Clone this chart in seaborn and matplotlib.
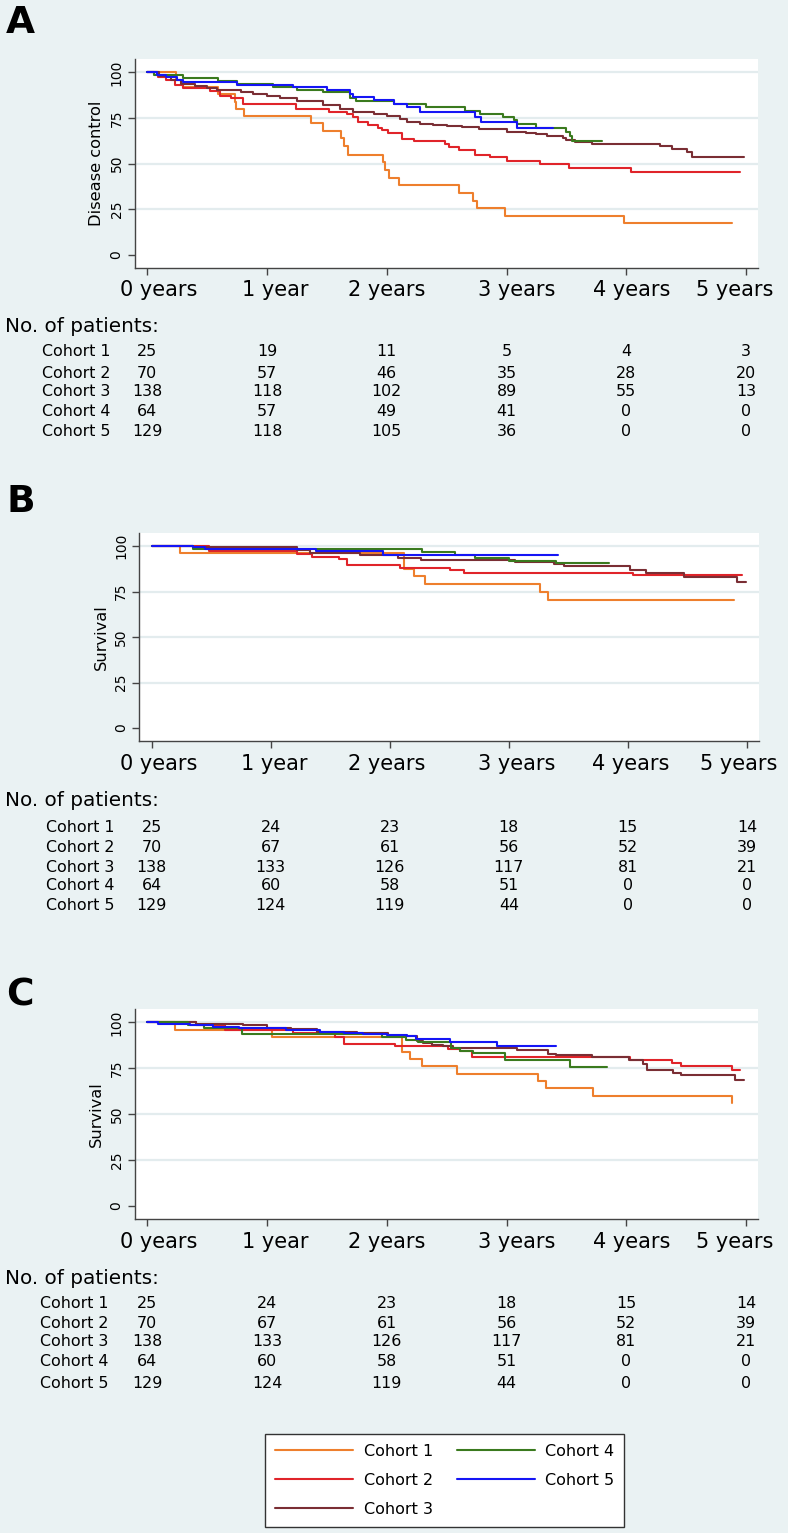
import matplotlib
matplotlib.use("Agg")
import matplotlib.pyplot as plt
import matplotlib.transforms as mtransforms
import pandas as pd
import seaborn as sns

cohorts = ["Cohort 1", "Cohort 2", "Cohort 3", "Cohort 4", "Cohort 5"]
colors = ["#EE7F2D", "#E0242A", "#7A2E34", "#3A7A1E", "#1515F5"]
year_ticks = [0, 1, 2, 3, 4, 5]
year_labels = ["0 years", "1 year", "2 years", "3 years", "4 years", "5 years"]
y_ticks = [0, 25, 50, 75, 100]

# ---- panel A: disease control (step times in years, value in %)
a_t1 = [0, 0.24, 0.30, 0.59, 0.73, 0.745, 0.81, 1.37, 1.465, 1.62, 1.64, 1.68,
        1.97, 1.985, 2.02, 2.105, 2.6, 2.72, 2.75, 2.99, 3.985]
a_s1 = [100, 96, 92, 88, 84, 80, 76, 72, 68, 64, 59.5, 55,
        51, 46.5, 42.2, 38.2, 33.7, 29.5, 25.5, 21.3, 17.3]
a_t2 = [0, 0.09, 0.16, 0.23, 0.30, 0.52, 0.61, 0.70, 0.80, 1.24, 1.52, 1.67, 1.72,
        1.76, 1.84, 1.93, 1.96, 2.01, 2.13, 2.23, 2.49, 2.52, 2.6, 2.74, 2.86, 3.0,
        3.28, 3.52, 4.04]
a_s2 = [100, 97.2, 95.7, 92.9, 91.4, 89.9, 87.1, 85.7, 82.9, 80.0, 78.5, 77.1, 75.6,
        72.7, 71.2, 69.7, 68.2, 66.7, 63.7, 62.2, 60.6, 59.1, 57.5, 55.0, 53.4, 51.7,
        50.1, 47.5, 45.3]
a_t3 = [0, 0.1, 0.2, 0.28, 0.4, 0.5, 0.58, 0.78, 0.88, 1.0, 1.11, 1.25, 1.47, 1.61,
        1.72, 1.89, 2.0, 2.11, 2.17, 2.28, 2.39, 2.5, 2.63, 2.77, 3.0, 3.16, 3.25,
        3.34, 3.47, 3.5, 3.57, 3.71, 4.28, 4.38, 4.51, 4.55]
a_s3 = [100, 98, 95.6, 93.8, 92.5, 91.4, 90.2, 89.2, 88.3, 87.0, 86.0, 84.1, 82.0,
        80.1, 78.3, 77.4, 76.1, 74.3, 73.0, 71.9, 71.4, 70.8, 69.9, 68.8, 67.5, 67.0,
        66.1, 65.2, 64.3, 63.0, 62.1, 61.0, 59.7, 58.1, 56.3, 53.5]
a_t4 = [0, 0.06, 0.3, 0.59, 0.75, 1.05, 1.25, 1.47, 1.69, 1.74, 2.06, 2.33, 2.65,
        2.78, 2.97, 3.06, 3.09, 3.25, 3.5, 3.53, 3.55]
a_s4 = [100, 98.4, 96.9, 95.3, 93.8, 92.2, 90.6, 89.1, 85.9, 84.4, 82.8, 81.2, 79.0,
        77.2, 75.6, 73.9, 71.7, 69.5, 67.5, 65.0, 62.6]
a_t5 = [0, 0.08, 0.16, 0.25, 0.3, 0.75, 1.22, 1.5, 1.69, 1.72, 1.89, 2.06, 2.17,
        2.28, 2.74, 2.79, 3.09]
a_s5 = [100, 98.7, 97.4, 95.6, 94.7, 93.3, 92.0, 90.2, 88.3, 86.5, 84.7, 82.9, 81.0,
        78.3, 75.7, 73.0, 69.4]
a_end = [4.88, 4.95, 4.98, 3.8, 3.39]
a_at_risk = [[25, 19, 11, 5, 4, 3],
             [70, 57, 46, 35, 28, 20],
             [138, 118, 102, 89, 55, 13],
             [64, 57, 49, 41, 0, 0],
             [129, 118, 105, 36, 0, 0]]

# ---- panel B: survival
b_t1 = [0, 0.24, 2.12, 2.2, 2.3, 3.26, 3.33]
b_s1 = [100, 96, 87.5, 83.3, 79.1, 74.7, 70.3]
b_t2 = [0, 0.48, 1.22, 1.35, 1.57, 1.64, 2.09, 2.51, 2.62, 4.04]
b_s2 = [100, 97.1, 95.7, 94.2, 92.7, 89.8, 88.0, 86.6, 85.4, 83.9]
b_t3 = [0, 0.35, 1.22, 1.33, 1.75, 2.07, 2.26, 3.05, 3.38, 3.46, 4.02, 4.15, 4.47, 4.92]
b_s3 = [100, 99.2, 97.8, 96.4, 95.0, 93.6, 92.1, 91.3, 90.0, 88.8, 87.0, 85.2, 83.2, 80.0]
b_t4 = [0, 0.35, 2.27, 2.55, 2.72, 3.0, 3.4]
b_s4 = [100, 98.6, 96.9, 95.3, 93.3, 91.5, 90.8]
b_t5 = [0, 0.35, 0.45, 1.38, 1.94]
b_s5 = [100, 99.2, 98.4, 97.1, 95.3]
b_end = [4.89, 4.96, 4.99, 3.84, 3.41]
b_at_risk = [[25, 24, 23, 18, 15, 14],
             [70, 67, 61, 56, 52, 39],
             [138, 133, 126, 117, 81, 21],
             [64, 60, 58, 51, 0, 0],
             [129, 124, 119, 44, 0, 0]]

# ---- panel C: survival
c_t1 = [0, 0.23, 1.04, 2.13, 2.19, 2.29, 2.59, 3.26, 3.33, 3.72, 4.88]
c_s1 = [100, 96, 92, 84, 80, 76, 72, 68, 64, 60, 56]
c_t2 = [0, 0.41, 0.65, 1.22, 1.57, 1.64, 2.07, 2.51, 2.61, 2.71, 4.03, 4.38, 4.46, 4.88]
c_s2 = [100, 98.5, 95.8, 94.1, 91.8, 88.5, 86.9, 85.6, 84.2, 81.4, 79.4, 78.1, 76.3, 74.1]
c_t3 = [0, 0.41, 0.8, 1.0, 1.2, 1.42, 1.75, 2.01, 2.25, 2.3, 2.38, 2.47, 2.55, 3.09,
        3.35, 3.41, 3.71, 4.02, 4.14, 4.17, 4.39, 4.46, 4.91]
c_s3 = [100, 99.3, 98.4, 97.2, 96.2, 94.9, 94.1, 92.7, 90.0, 88.7, 87.6, 86.9, 85.8,
        85.0, 83.0, 82.1, 80.9, 79.6, 77.2, 74.1, 72.7, 71.4, 68.6]
c_t4 = [0, 0.34, 0.47, 0.79, 1.96, 2.16, 2.26, 2.54, 2.61, 2.72, 2.99, 3.53]
c_s4 = [100, 98.4, 96.9, 93.8, 92.2, 90.6, 89.1, 86.3, 84.5, 83.2, 79.6, 75.9]
c_t5 = [0, 0.09, 0.36, 0.55, 0.77, 1.16, 1.44, 1.64, 1.8, 2.0, 2.17, 2.24, 2.53, 2.92]
c_s5 = [100, 99.2, 98.4, 97.5, 96.7, 95.6, 94.7, 94.1, 93.6, 92.9, 92.5, 91.0, 89.1, 87.2]
c_end = [4.885, 4.95, 4.98, 3.84, 3.41]
c_at_risk = b_at_risk

W, H = 788, 1533
BG = "#EAF2F3"
GRID = "#E3ECEE"
INK = "black"
palette = dict(zip(cohorts, colors))

sns.set_theme(style="white")
plt.rcParams["font.family"] = ["DejaVu Sans"]
plt.rcParams["text.color"] = INK
plt.rcParams["xtick.color"] = INK
plt.rcParams["ytick.color"] = INK
plt.rcParams["axes.labelcolor"] = INK

fig = plt.figure(figsize=(W / 100, H / 100), dpi=100, facecolor=BG)


def km_frame(times, survs, ends):
    parts = []
    for name, t, s, e in zip(cohorts, times, survs, ends):
        parts.append(pd.DataFrame({"time": list(t) + [e],
                                   "surv": list(s) + [s[-1]],
                                   "cohort": name}))
    return pd.concat(parts, ignore_index=True)


def add_axes(left, top, right, bottom):
    return fig.add_axes([left / W, 1 - bottom / H, (right - left) / W, (bottom - top) / H])


def draw_panel(ax, df, ylabel, label_dx):
    ax.set_facecolor("white")
    for g in [25, 50, 75, 100]:
        ax.axhline(g, color=GRID, lw=1.6, zorder=0)
    sns.lineplot(data=df, x="time", y="surv", hue="cohort", hue_order=cohorts,
                 palette=palette, estimator=None, sort=False, drawstyle="steps-post",
                 linewidth=1.5, legend=False, ax=ax)
    ax.set_xlim(-0.105, 5.1)
    ax.set_ylim(-7.1, 107.3)
    ax.set_xticks(year_ticks)
    ax.set_xticklabels(year_labels, fontsize=15)
    ax.set_yticks(y_ticks)
    ax.set_yticklabels([str(v) for v in y_ticks], fontsize=10, rotation=90, va="center")
    ax.set_xlabel("")
    ax.set_ylabel(ylabel, fontsize=11.7, labelpad=4)
    for s in ["top", "right"]:
        ax.spines[s].set_visible(False)
    for s in ["left", "bottom"]:
        ax.spines[s].set_color("#444444")
        ax.spines[s].set_linewidth(1.0)
    ax.tick_params(axis="both", length=5, width=1.0, color="#444444", left=True, bottom=True)
    ax.tick_params(axis="x", pad=4)
    ax.tick_params(axis="y", pad=3)
    for lab, dx in zip(ax.get_xticklabels(), label_dx):
        lab.set_transform(lab.get_transform() +
                          mtransforms.ScaledTranslation(dx / 100, 0, fig.dpi_scale_trans))


def draw_table(ax, at_risk, y_head, y_rows, x_label):
    trans = mtransforms.blended_transform_factory(ax.transData, fig.transFigure)
    fig.text(5 / W, 1 - y_head / H, "No. of patients:", fontsize=14.4, va="center", ha="left")
    for name, counts, yr in zip(cohorts, at_risk, y_rows):
        fig.text(x_label / W, 1 - yr / H, name, fontsize=11.4, va="center", ha="left")
        for t, n in zip(year_ticks, counts):
            ax.text(t, 1 - yr / H, str(n), transform=trans, ha="center", va="center",
                    fontsize=11.4)


ax_a = add_axes(134.7, 59, 758, 268)
draw_panel(ax_a, km_frame([a_t1, a_t2, a_t3, a_t4, a_t5], [a_s1, a_s2, a_s3, a_s4, a_s5], a_end),
           "Disease control", [11, 8, 0, 10, 5, -11])
draw_table(ax_a, a_at_risk, 326, [352, 373, 392, 411, 432], 42)

ax_b = add_axes(139.2, 532.7, 758.8, 741)
draw_panel(ax_b, km_frame([b_t1, b_t2, b_t3, b_t4, b_t5], [b_s1, b_s2, b_s3, b_s4, b_s5], b_end),
           "Survival", [7, 4, -3, 8, 3, -8])
draw_table(ax_b, b_at_risk, 800, [828, 848, 867, 886, 906], 46)

ax_c = add_axes(134.7, 1009, 758, 1219)
draw_panel(ax_c, km_frame([c_t1, c_t2, c_t3, c_t4, c_t5], [c_s1, c_s2, c_s3, c_s4, c_s5], c_end),
           "Survival", [11, 8, 0, 10, 5, -11])
draw_table(ax_c, c_at_risk, 1278, [1303, 1323, 1342, 1361, 1383], 40)

for letter, yc in [("A", 23), ("B", 502), ("C", 995)]:
    fig.text(6 / W, 1 - yc / H, letter, fontsize=27, fontweight="bold", va="center", ha="left")

handles = [plt.Line2D([], [], color=c, lw=1.5) for c in colors]
leg = fig.legend(handles, cohorts, loc="upper left", bbox_to_anchor=(265 / W, 1 - 1434 / H),
                 ncol=2, fontsize=11.5, handlelength=4.9, handletextpad=0.65,
                 columnspacing=1.5, labelspacing=0.88, borderpad=0.62, borderaxespad=0,
                 fancybox=False, frameon=True, framealpha=1)
leg.get_frame().set_edgecolor("#333333")
leg.get_frame().set_linewidth(1.0)
leg.get_frame().set_facecolor("white")

fig.savefig("out.png", dpi=100, facecolor=BG)
